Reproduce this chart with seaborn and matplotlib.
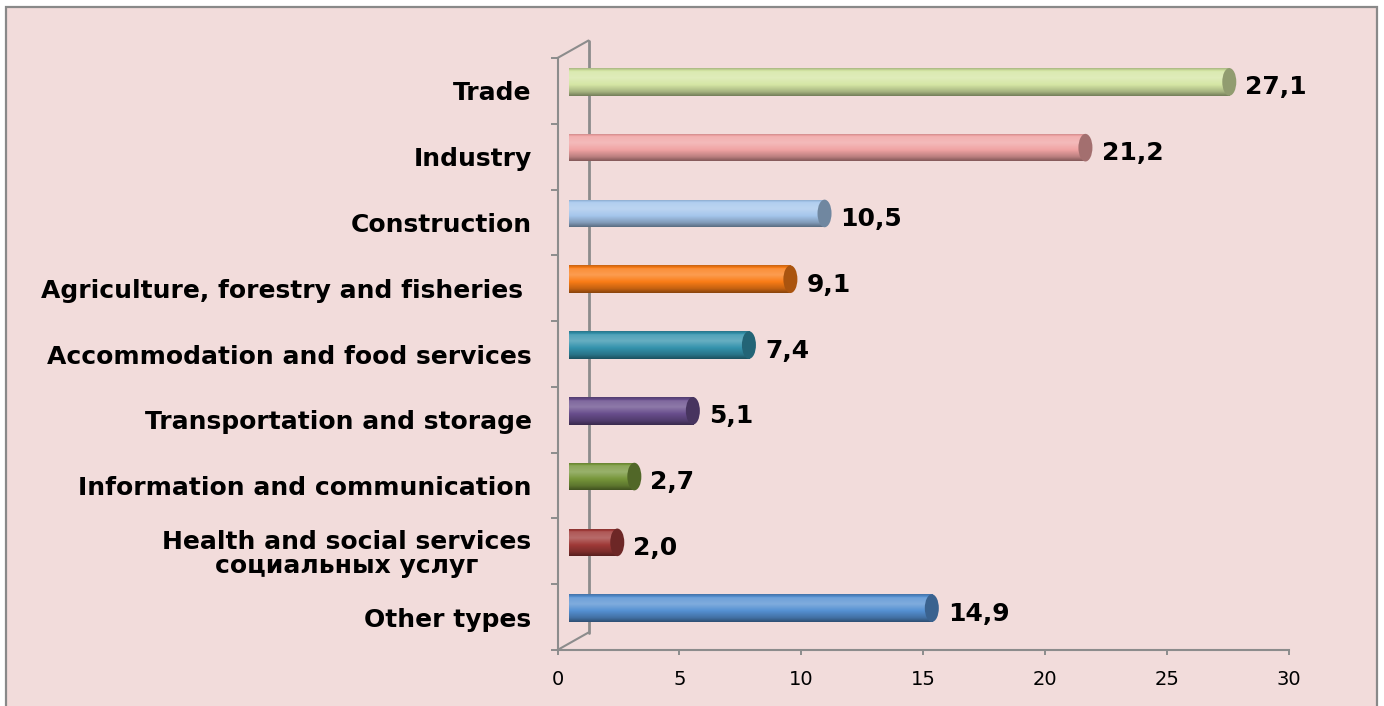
import matplotlib
matplotlib.use("Agg")
import matplotlib.pyplot as plt
import matplotlib.transforms as mtransforms
from matplotlib.patches import Rectangle, Ellipse
from matplotlib.colors import to_rgb
import numpy as np
import seaborn as sns

categories = ["Trade", "Industry", "Construction",
              "Agriculture, forestry and fisheries ",
              "Accommodation and food services",
              "Transportation and storage",
              "Information and communication",
              "Health and social services\nсоциальных услуг",
              "Other types"]
values = [27.1, 21.2, 10.5, 9.1, 7.4, 5.1, 2.7, 2.0, 14.9]
colors = ["#D5E6A4", "#F0A3A3", "#A5C6EC", "#FA7C16", "#3493AD",
          "#684D8C", "#77973B", "#A03A38", "#5590D2"]
xticks = [0, 5, 10, 15, 20, 25, 30]

sns.set_style("white")
plt.rcParams['font.family'] = ['DejaVu Sans']
plt.rcParams['text.color'] = 'black'
plt.rcParams['xtick.color'] = 'black'
plt.rcParams['ytick.color'] = 'black'

grey = "#8C8C8C"
fig = plt.figure(figsize=(13.84, 7.06), dpi=100)
fig.patch.set_facecolor("white")
# pink chart area with grey frame
fig.add_artist(Rectangle((6 / 1384, -0.02), 1371 / 1384, 1.02 - 7 / 706,
                         transform=fig.transFigure, facecolor="#F2DCDB",
                         edgecolor="#898989", linewidth=1.6, zorder=0))

ax = fig.add_axes([557.5 / 1384, 56 / 706, 731.5 / 1384, 592 / 706])
ax.patch.set_visible(False)

sns.barplot(x=values, y=categories, hue=categories, palette=colors,
            orient="h", width=0.42, legend=False, saturation=1, ax=ax)

# shift bars like the 3d depth in the original
shift = mtransforms.ScaledTranslation(11 / 100, 9 / 100, fig.dpi_scale_trans)
tr = ax.transData + shift

# shading profile for the cylinder look (top -> bottom)
prof_t = [0.0, 0.12, 0.35, 0.6, 0.85, 1.0]
prof_f = [0.80, 1.06, 1.10, 1.0, 0.78, 0.55]
tt = np.linspace(0, 1, 60)
ff = np.interp(tt, prof_t, prof_f)

bars = list(ax.patches)
for p in bars:
    p.set_transform(tr)
    p.set_edgecolor("none")
    i = int(round(p.get_y() + p.get_height() / 2))
    base = np.array(to_rgb(colors[i]))
    grad = np.zeros((len(tt), 1, 3))
    for k, f in enumerate(ff):
        if f > 1:
            grad[k, 0] = base + (f - 1) * 2.5 * (1 - base)
        else:
            grad[k, 0] = base * f
    grad = np.clip(grad, 0, 1)
    x0, w = p.get_x(), p.get_width()
    y0, h = p.get_y(), p.get_height()
    im = ax.imshow(grad, extent=(x0, x0 + w, y0 + h, y0), origin="upper",
                   aspect="auto", transform=tr, zorder=2.1,
                   interpolation="bilinear")
    im.set_clip_path(p)
    cap = Ellipse((x0 + w, y0 + h / 2), width=14 / 24.37, height=h,
                  transform=tr, facecolor=base * 0.68, edgecolor="none",
                  zorder=2.2)
    ax.add_patch(cap)
    ax.annotate(f"{values[i]:.1f}".replace(".", ","), xy=(x0 + w, i),
                xytext=(19.5, 2.5), textcoords="offset points",
                ha="left", va="center", fontsize=18, fontweight="bold",
                color="black")

ax.set_xlim(0, 30)
ax.set_ylim(len(categories) - 0.5, -0.5)
ax.set_xticks(xticks)
ax.set_xticklabels([str(t) for t in xticks])
ax.set_yticks(range(len(categories)))
ax.set_yticklabels(categories, fontsize=18, fontweight="bold", color="black")
for lab in ax.get_yticklabels():
    if "\n" in lab.get_text():
        lab.set_multialignment("center")
        lab.set_linespacing(1.0)
ax.set_yticks(np.arange(-0.5, len(categories), 1), minor=True)
ax.set_xlabel("")
ax.set_ylabel("")

ax.tick_params(axis="x", which="major", bottom=True, direction="out",
               length=3.6, width=1.4, color=grey, labelcolor="black",
               labelsize=14, pad=11)
ax.tick_params(axis="y", which="major", left=True, length=0, pad=18.7,
               labelcolor="black")
ax.tick_params(axis="y", which="minor", left=True, direction="out",
               length=5, width=1.4, color=grey)
ax.tick_params(axis="x", which="minor", bottom=False, length=0)

for s in ["top", "right"]:
    ax.spines[s].set_visible(False)
for s in ["left", "bottom"]:
    ax.spines[s].set_color(grey)
    ax.spines[s].set_linewidth(1.5)

# back wall of the 3d frame
dx = 31 / 731.5
dy = 17.5 / 592
ax.plot([dx, dx], [dy, 1 + dy], transform=ax.transAxes, color=grey,
        lw=2, clip_on=False, zorder=1)
ax.plot([0, dx], [1, 1 + dy], transform=ax.transAxes, color=grey,
        lw=1.5, clip_on=False, zorder=1)
ax.plot([0, dx], [0, dy], transform=ax.transAxes, color=grey,
        lw=1.5, clip_on=False, zorder=1)

fig.savefig("out.png", dpi=100, facecolor=fig.get_facecolor())
